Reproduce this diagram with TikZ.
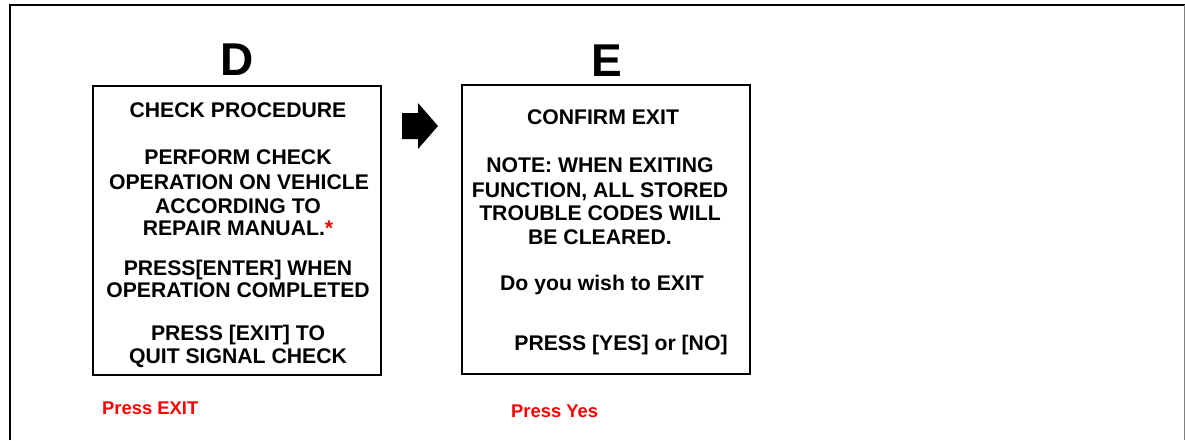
\documentclass[tikz,border=0pt]{standalone}
\usepackage{fontspec}
\setmainfont{Liberation Sans}
\begin{document}
\begin{tikzpicture}[x=1pt,y=-1pt,
  screen/.style={draw=black,line width=1.8pt,inner sep=0pt},
  txt/.style={anchor=base,inner sep=0pt,font=\fontsize{21.2}{23}\selectfont\bfseries},
  big/.style={anchor=base,inner sep=0pt,font=\fontsize{46}{50}\selectfont\bfseries},
  redtxt/.style={anchor=base west,inner sep=0pt,text=red,font=\fontsize{18.4}{20}\selectfont\bfseries}]
\useasboundingbox (0,0) rectangle (1185,440);
% frame
\draw[line width=2.6pt] (10,440) -- (10,5) -- (1185,5);
\draw[gray,line width=1pt] (1184,5) -- (1184,440);
% titles
\node[big] (D) at (237,75) {D};
\node[big] (E) at (607,76) {E};
% boxes
\draw[screen] (93,86) rectangle (381,375);
\draw[screen] (462,85) rectangle (750,374);
% D box text
\node[txt] (d1) at (238,117.5) {CHECK PROCEDURE};
\node[txt] (d2) at (238,164.5) {PERFORM CHECK};
\node[txt] (d3) at (239,189.5) {OPERATION ON VEHICLE};
\node[txt] (d4) at (238,213.5) {ACCORDING TO};
\node[txt] (d5) at (238,235.5) {REPAIR MANUAL.\textcolor{red}{*}};
\node[txt] (d6) at (238,275.5) {PRESS[ENTER] WHEN};
\node[txt] (d7) at (238,297.5) {OPERATION COMPLETED};
\node[txt] (d8) at (238,340.5) {PRESS [EXIT] TO};
\node[txt] (d9) at (238,363.5) {QUIT SIGNAL CHECK};
% E box text
\node[txt] (e1) at (603,124.5) {CONFIRM EXIT};
\node[txt] (e2) at (600,172.5) {NOTE: WHEN EXITING};
\node[txt] (e3) at (600,197.5) {FUNCTION, ALL STORED};
\node[txt] (e4) at (600,220.5) {TROUBLE CODES WILL};
\node[txt] (e5) at (600,244.5) {BE CLEARED.};
\node[txt] (e6) at (602,290.5) {Do you wish to EXIT};
\node[txt] (e7) at (621,350.5) {PRESS [YES] or [NO]};
% arrow
\fill[black] (402,113) -- (418,113) -- (418,103) -- (438,126) -- (418,149) -- (418,139) -- (402,139) -- cycle;
% red labels
\node[redtxt] (r1) at (102,414.5) {Press EXIT};
\node[redtxt] (r2) at (511,417.5) {Press Yes};
\end{tikzpicture}
\end{document}
